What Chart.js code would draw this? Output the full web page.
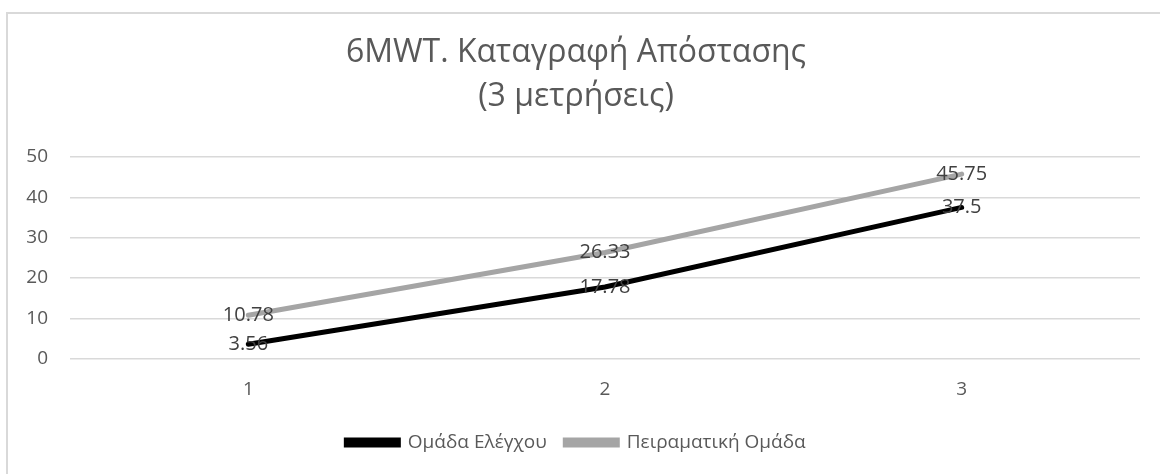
<!DOCTYPE html>
<html>
<head>
<meta charset="utf-8">
<script src="https://cdn.jsdelivr.net/npm/chart.js@4/dist/chart.umd.min.js"></script>
<style>
  html, body { margin: 0; padding: 0; background: #fff; }
  #wrap { position: relative; width: 1160px; height: 474px; }
  #frame { position: absolute; left: 6px; top: 12px; width: 1200px; height: 500px;
           border-left: 2px solid #d9d9d9; border-top: 2px solid #d9d9d9; box-sizing: border-box; }
  canvas { position: absolute; left: 0; top: 0; }
</style>
</head>
<body>
<div id="wrap">
  <div id="frame"></div>
  <canvas id="chartCanvas" width="1160" height="474"></canvas>
</div>
<script>
// data
const categories = ['1', '2', '3'];
const controlName = 'Ομάδα Ελέγχου';
const controlValues = [3.56, 17.78, 37.5];
const expName = 'Πειραματική Ομάδα';
const expValues = [10.78, 26.33, 45.75];
const titleLines = ['6MWT. Καταγραφή Απόστασης', '(3 μετρήσεις)'];

const FONT = "'Open Sans', 'Noto Sans', sans-serif";
const TEXT = '#595959';

// value labels centred on each point
const pointLabels = {
  id: 'pointLabels',
  afterDatasetsDraw(chart){
    const ctx = chart.ctx;
    ctx.save();
    ctx.font = '20px ' + FONT;
    ctx.fillStyle = '#404040';
    ctx.textAlign = 'center';
    ctx.textBaseline = 'middle';
    chart.data.datasets.forEach((ds, i) => {
      const meta = chart.getDatasetMeta(i);
      meta.data.forEach((pt, j) => {
        ctx.fillText(String(ds.data[j]), pt.x, pt.y);
      });
    });
    ctx.restore();
  }
};

const canvas = document.getElementById('chartCanvas');
const chart = new Chart(canvas.getContext('2d'), {
  type: 'line',
  data: {
    labels: categories,
    datasets: [
      { label: controlName, data: controlValues, borderColor: '#000000', backgroundColor: '#000000',
        borderWidth: 5, pointRadius: 0, borderCapStyle: 'round', tension: 0 },
      { label: expName, data: expValues, borderColor: '#a5a5a5', backgroundColor: '#a5a5a5',
        borderWidth: 5, pointRadius: 0, borderCapStyle: 'round', tension: 0 }
    ]
  },
  options: {
    responsive: false,
    animation: false,
    layout: { padding: { left: 12, right: 20, top: 20, bottom: 12 } },
    plugins: {
      title: {
        display: true,
        text: titleLines,
        color: TEXT,
        font: { family: FONT, size: 32, weight: 'normal', lineHeight: 1.375 },
        padding: { top: 11, bottom: 38 }
      },
      legend: {
        position: 'bottom',
        labels: {
          color: TEXT,
          font: { family: FONT, size: 19 },
          boxWidth: 52,
          boxHeight: 5,
          padding: 18.5
        }
      },
      tooltip: { enabled: false }
    },
    scales: {
      x: {
        offset: true,
        afterFit(scale){ scale.height += 3; },
        grid: { display: false },
        border: { display: false },
        ticks: { color: TEXT, font: { family: FONT, size: 19 }, padding: 11 }
      },
      y: {
        min: 0, max: 50,
        afterFit(scale){ scale.width = 58; },
        ticks: { stepSize: 10, color: TEXT, font: { family: FONT, size: 19 }, padding: 22 },
        grid: { color: '#d9d9d9', lineWidth: 1.5, drawTicks: false },
        border: { display: false }
      }
    }
  },
  plugins: [pointLabels]
});
</script>
</body>
</html>
